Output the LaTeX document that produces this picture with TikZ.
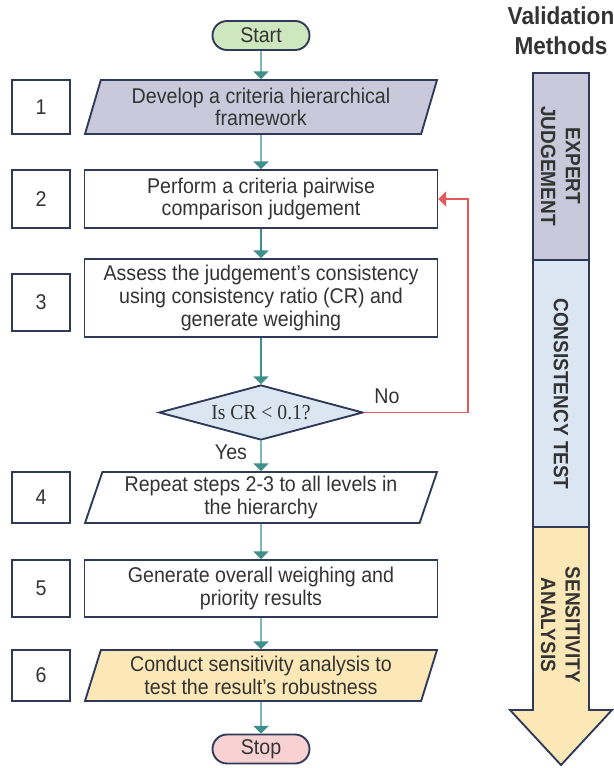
\documentclass[tikz,border=0pt]{standalone}
\usepackage{fontspec}
\setmainfont{Liberation Sans}[FakeStretch=0.92]
\newfontfamily\serifa{Liberation Serif}[FakeStretch=0.92]
\usetikzlibrary{shapes,arrows,positioning,shapes.misc,shapes.geometric}

\definecolor{bordo}{HTML}{2E3A58}
\definecolor{testocol}{HTML}{333333}
\definecolor{verde}{HTML}{CFE7BE}
\definecolor{rosa}{HTML}{F8D2D3}
\definecolor{lilla}{HTML}{C9C9DB}
\definecolor{azzurro}{HTML}{DBE6F3}
\definecolor{giallo}{HTML}{FCE7B7}
\definecolor{ottanio}{HTML}{3F8F8A}
\definecolor{rosso}{HTML}{E25A5A}

\begin{document}
\begin{tikzpicture}[x=0.75pt,y=-0.75pt]
\tikzset{base/.style={text=testocol, align=center,draw=bordo,line width=1.4pt,inner sep=2pt}, }
\tikzset{testobase/.style={font=\fontsize{16}{16.9}\selectfont,text=testocol}, }
\tikzset{numero node/.style={testobase,base,minimum width=43.5pt,fill=white}, }
\tikzset{passo node/.style={testobase,base,minimum width=264.75pt,fill=white}, }
\tikzset{dati node/.style={testobase,base,trapezium,trapezium left angle=70,trapezium right angle=110,trapezium stretches body,minimum width=264pt}, }
\tikzset{decisione node/.style={base,diamond,aspect=3.7,inner sep=0pt,minimum width=153pt,minimum height=41.25pt,fill=azzurro,font=\serifa\fontsize{16}{17}\selectfont}, }
\tikzset{terminale node/.style={testobase,base,rounded rectangle,minimum width=72.75pt,minimum height=21.75pt,inner sep=0pt}, }
\tikzset{freccia testo/.style={align=center,text=testocol,font=\bfseries\fontsize{15.5}{18.5}\selectfont}, }
\tikzset{titolo/.style={text=testocol,font=\bfseries\fontsize{18.4}{22}\selectfont}, }
\tikzset{linea/.style={-triangle 90,draw=ottanio,line width=1pt},}
\tikzset{ritorno/.style={-triangle 90,draw=rosso,line width=1pt},}

	\fill[white] (0,0) rectangle (614,768);
	\useasboundingbox (0,0) rectangle (614,768);

	% flusso principale
	\node[terminale node,fill=verde] (start) at (261,35.5) {Start};
	\node[dati node,fill=lilla,minimum height=40.5pt] (p1) at (261,107) {Develop a criteria hierarchical\\framework};
	\node[passo node,minimum height=43.5pt] (p2) at (261,199) {Perform a criteria pairwise\\comparison judgement};
	\node[passo node,minimum height=58.5pt] (p3) at (261,298) {Assess the judgement's consistency\\using consistency ratio (CR) and\\generate weighing};
	\node[decisione node] (d) at (261,412.5) {Is CR < 0.1?};
	\node[dati node,fill=white,minimum height=38.25pt] (p4) at (261,497.5) {Repeat steps 2-3 to all levels in\\the hierarchy};
	\node[passo node,minimum height=42.75pt] (p5) at (261,588.5) {Generate overall weighing and\\priority results};
	\node[dati node,fill=giallo,minimum height=38.25pt] (p6) at (261,675.5) {Conduct sensitivity analysis to\\test the result's robustness};
	\node[terminale node,fill=rosa] (stop) at (261,749) {Stop};

	% numeri
	\node[numero node,minimum height=40.5pt] (n1) at (41,107) {1};
	\node[numero node,minimum height=43.5pt] (n2) at (41,199) {2};
	\node[numero node,minimum height=42.75pt] (n3) at (41,302.5) {3};
	\node[numero node,minimum height=38.25pt] (n4) at (41,497.5) {4};
	\node[numero node,minimum height=42.75pt] (n5) at (41,588.5) {5};
	\node[numero node,minimum height=38.25pt] (n6) at (41,675.5) {6};

	\foreach \a/\b in {start/p1,p1/p2,p2/p3,p3/d,d/p4,p4/p5,p5/p6,p6/stop}
		\draw[linea] (\a.south) -- (\b.north);
	\draw[ritorno] (d.east) -- ++(104,0) |- (p2.east);
	\node[testobase] (no) at (387,396) {No};
	\node[testobase] (yes) at (231,452) {Yes};

	% freccia metodi di validazione
	\filldraw[fill=lilla,draw=bordo,line width=1.4pt] (533,73) rectangle (589,260);
	\filldraw[fill=azzurro,draw=bordo,line width=1.4pt] (533,260) rectangle (589,527);
	\filldraw[fill=giallo,draw=bordo,line width=1.4pt] (533,527) -- (589,527) -- (589,710) -- (612,710) -- (561,765) -- (510,710) -- (533,710) -- cycle;
	\node[freccia testo,rotate=-90] (ej) at (560.5,166) {EXPERT\\JUDGEMENT};
	\node[freccia testo,rotate=-90] (ct) at (561,394) {CONSISTENCY TEST};
	\node[freccia testo,rotate=-90] (sa) at (560.5,625) {SENSITIVITY\\ANALYSIS};
	\node[titolo] (val) at (561,16) {Validation};
	\node[titolo] (met) at (561,46) {Methods};
\end{tikzpicture}
\end{document}
